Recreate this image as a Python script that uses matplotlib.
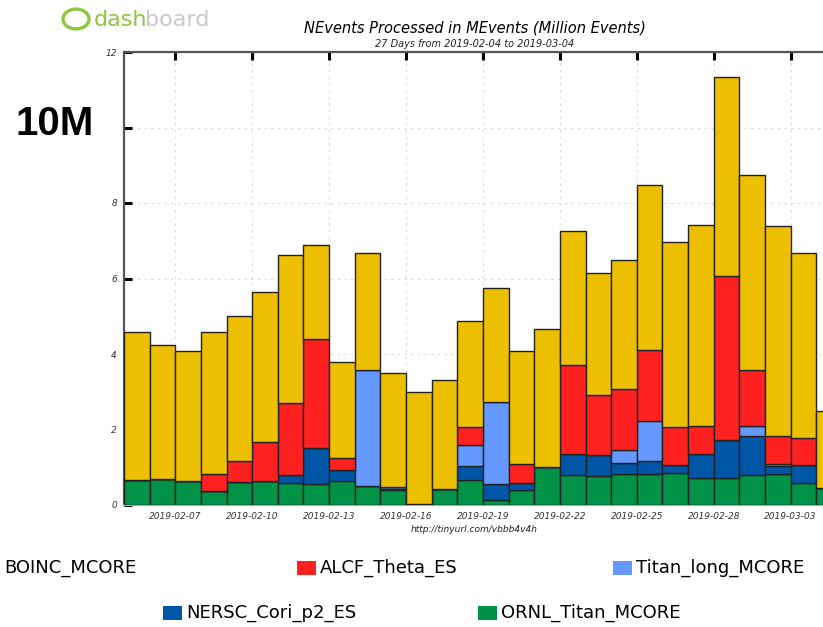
import numpy as np
import pandas as pd
import matplotlib
matplotlib.use('Agg')
import matplotlib.pyplot as plt
import matplotlib.dates as mdates
from matplotlib.patches import Rectangle, Circle

# one bar per day, starting 2019-02-05
days = pd.date_range('2019-02-05', periods=28, freq='D')

ornl_titan = [0.66, 0.69, 0.63, 0.36, 0.60, 0.63, 0.57, 0.55, 0.63, 0.50, 0.40, 0.03, 0.42, 0.65,
              0.12, 0.39, 1.00, 0.79, 0.78, 0.83, 0.83, 0.86, 0.71, 0.71, 0.79, 0.81, 0.57, 0.44]
nersc_cori = [0, 0, 0, 0, 0, 0, 0.22, 0.96, 0.30, 0, 0.03, 0, 0, 0.37,
              0.43, 0.18, 0, 0.55, 0.54, 0.27, 0.34, 0.19, 0.63, 1.01, 1.04, 0.22, 0.48, 0]
titan_long = [0, 0, 0, 0, 0, 0, 0, 0, 0, 3.07, 0.05, 0, 0, 0.56,
              2.19, 0, 0, 0, 0, 0.35, 1.06, 0, 0, 0, 0.27, 0.05, 0, 0]
alcf_theta = [0, 0, 0, 0.45, 0.57, 1.04, 1.92, 2.89, 0.31, 0, 0, 0, 0, 0.49,
              0, 0.51, 0, 2.36, 1.59, 1.63, 1.87, 1.02, 0.75, 4.35, 1.47, 0.74, 0.72, 0]
boinc = [3.91, 3.54, 3.44, 3.76, 3.84, 3.98, 3.91, 2.48, 2.54, 3.10, 3.02, 2.96, 2.88, 2.81,
         3.02, 2.99, 3.66, 3.56, 3.23, 3.40, 4.38, 4.89, 5.33, 5.27, 5.17, 5.57, 4.90, 2.06]

series = [('ORNL_Titan_MCORE', ornl_titan, '#009247'),
          ('NERSC_Cori_p2_ES', nersc_cori, '#0056a6'),
          ('Titan_long_MCORE', titan_long, '#6699ff'),
          ('ALCF_Theta_ES', alcf_theta, '#ff2020'),
          ('BOINC_MCORE', boinc, '#ecbf00')]

xtick_dates = ['2019-02-07', '2019-02-10', '2019-02-13', '2019-02-16', '2019-02-19',
               '2019-02-22', '2019-02-25', '2019-02-28', '2019-03-03']
yticks = [0, 2, 4, 6, 8, 10, 12]
ytick_labels = ['0', '2', '4', '6', '8', '', '12']

W, H = 823, 627
fig = plt.figure(figsize=(W / 100, H / 100), dpi=100)
# axes run past the right edge, like the cropped screenshot
ax = fig.add_axes([124 / W, (H - 505) / H, 718 / W, 453 / H])

bottom = np.zeros(len(days))
for name, vals, col in series:
    vals = np.array(vals)
    ax.bar(days, vals, width=1.0, align='edge', bottom=bottom, color=col,
           edgecolor='#222222', linewidth=1.0, zorder=3)
    bottom += vals

ax.set_xlim(days[0], days[-1] + pd.Timedelta(days=1))
ax.set_ylim(0, 12)
ax.set_xticks(pd.to_datetime(xtick_dates))
ax.xaxis.set_major_formatter(mdates.DateFormatter('%Y-%m-%d'))
ax.set_yticks(yticks)
ax.set_yticklabels(ytick_labels)

ax.grid(True, color='#d8d8d8', linestyle=(0, (2, 4)), linewidth=0.8, zorder=0)
ax.tick_params(axis='both', direction='in', length=6, width=2.2, color='black',
               labelsize=6.5, labelcolor='#333333', top=True, right=True)
ax.tick_params(axis='x', pad=5)
ax.tick_params(axis='y', pad=5)
for lab in ax.get_xticklabels() + ax.get_yticklabels():
    lab.set_fontstyle('italic')
for s in ax.spines.values():
    s.set_color('#555555')
    s.set_linewidth(1.6)
ax.spines['bottom'].set_color('#aaaaaa')

fig.text(475 / W, 1 - 28 / H, 'NEvents Processed in MEvents (Million Events)',
         ha='center', va='center', fontsize=10.5, fontstyle='italic', color='black')
fig.text(475 / W, 1 - 44 / H, '27 Days from 2019-02-04 to 2019-03-04',
         ha='center', va='center', fontsize=7, fontstyle='italic', color='#222222')
fig.text(474 / W, 1 - 529 / H, 'http://tinyurl.com/vbbb4v4h',
         ha='center', va='center', fontsize=6.5, fontstyle='italic', color='#222222')

# big overlay label
fig.text(15 / W, 1 - 124 / H, '10M', ha='left', va='center', fontsize=29,
         fontweight='bold', family='Liberation Sans', color='black')

# logo
fig.patches.append(Circle((76 / W, 1 - 19 / H), 13 / W, transform=fig.transFigure,
                          fill=False, edgecolor='#8dc63f', linewidth=2.4))
fig.text(94 / W, 1 - 20 / H, 'dash', ha='left', va='center', fontsize=16,
         color='#8dc63f', family='DejaVu Sans')
fig.text(145 / W, 1 - 20 / H, 'board', ha='left', va='center', fontsize=16,
         color='#c8c8c8', family='DejaVu Sans')

# legend, laid out like the dashboard (first entry cut at left)
legend_slots = {'BOINC_MCORE': (-19, 568), 'ALCF_Theta_ES': (297, 568),
                'Titan_long_MCORE': (613, 568), 'NERSC_Cori_p2_ES': (163, 613),
                'ORNL_Titan_MCORE': (478, 613)}
for name, vals, col in series:
    px, py = legend_slots[name]
    fig.patches.append(Rectangle((px / W, 1 - (py + 7) / H), 19 / W, 14 / H,
                                 transform=fig.transFigure, facecolor=col,
                                 edgecolor='none'))
    fig.text((px + 23) / W, 1 - py / H, name, ha='left', va='center',
             fontsize=13, color='black')

fig.savefig('out.png', dpi=100)
